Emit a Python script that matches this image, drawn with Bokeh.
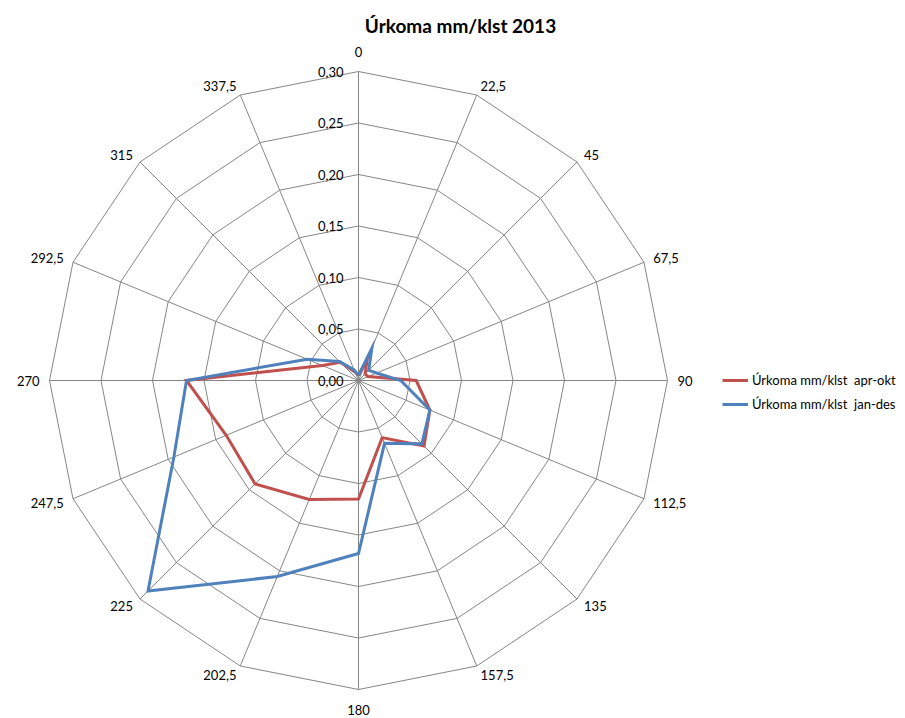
import numpy as np
from bokeh.plotting import figure
from bokeh.models import Range1d, Legend, LegendItem, Label
from bokeh.core.properties import value
from bokeh.embed import file_html
from bokeh.resources import INLINE

title = "Úrkoma mm/klst 2013"
directions = [0, 22.5, 45, 67.5, 90, 112.5, 135, 157.5,
              180, 202.5, 225, 247.5, 270, 292.5, 315, 337.5]
direction_labels = ["0", "22,5", "45", "67,5", "90", "112,5", "135", "157,5",
                    "180", "202,5", "225", "247,5", "270", "292,5", "315", "337,5"]
apr_okt = [0.005, 0.022, 0.009, 0.010, 0.056, 0.075, 0.090, 0.060,
           0.115, 0.125, 0.142, 0.139, 0.167, 0.038, 0.025, 0.009]
jan_des = [0.005, 0.034, 0.014, 0.019, 0.041, 0.075, 0.087, 0.066,
           0.168, 0.206, 0.289, 0.194, 0.167, 0.054, 0.026, 0.011]
series_names = ["Úrkoma mm/klst  apr-okt", "Úrkoma mm/klst  jan-des"]
series_colors = ["#C0504D", "#4F81BD"]
ring_values = [0.05, 0.10, 0.15, 0.20, 0.25, 0.30]
tick_values = [0.00, 0.05, 0.10, 0.15, 0.20, 0.25, 0.30]
tick_labels = ["0,00", "0,05", "0,10", "0,15", "0,20", "0,25", "0,30"]

W, H = 905, 718
S = 1030.0          # pixels per data unit
CX, CY = 358, 380   # centre of the radar in figure pixels (from top-left)
FONT = "Lato"
GRID = "#868686"

p = figure(width=W, height=H, output_backend="svg", toolbar_location=None,
           x_range=Range1d(-CX / S, (W - CX) / S),
           y_range=Range1d(-(H - CY) / S, CY / S),
           min_border=0, outline_line_color=None)
p.xaxis.visible = False
p.yaxis.visible = False
p.grid.visible = False

theta = np.radians(np.array(directions))
sn, cs = np.sin(theta), np.cos(theta)
rmax = max(ring_values)

# rings
rx, ry = [], []
for r in ring_values:
    rx.append(list(np.append(r * sn, r * sn[0])))
    ry.append(list(np.append(r * cs, r * cs[0])))
p.multi_line(rx, ry, line_color=GRID, line_width=1)

# spokes
p.multi_line([[0, rmax * s] for s in sn], [[0, rmax * c] for c in cs],
             line_color=GRID, line_width=1)

# series
renderers = []
for vals, col in zip([apr_okt, jan_des], series_colors):
    v = np.array(vals)
    xs = np.append(v * sn, v[0] * sn[0])
    ys = np.append(v * cs, v[0] * cs[0])
    renderers.append(p.line(xs, ys, line_color=col, line_width=3, line_join="miter"))

# tick labels on the vertical axis
p.text(x=[-15 / S] * len(tick_values), y=tick_values, text=tick_labels,
       text_align="right", text_baseline="middle", text_font=value(FONT),
       text_font_size="13px", text_color="#000000")

# category labels
groups = {}
for i, lab in enumerate(direction_labels):
    s, c = sn[i], cs[i]
    if abs(s) < 1e-6:
        off = 15 / S
        x, y = 0.0, (rmax + off) * (1 if c > 0 else -1)
        key = ("center", "bottom" if c > 0 else "top")
    else:
        off = 10 / S
        x, y = (rmax + off) * s, (rmax + off) * c
        key = ("left" if s > 0 else "right", "middle")
    groups.setdefault(key, ([], [], []))
    groups[key][0].append(x)
    groups[key][1].append(y)
    groups[key][2].append(lab)
for (al, bl), (xs, ys, ts) in groups.items():
    p.text(x=xs, y=ys, text=ts, text_align=al, text_baseline=bl,
           text_font=value(FONT), text_font_size="13px", text_color="#000000")

# title
p.add_layout(Label(x=460, y=H - 25, x_units="screen", y_units="screen",
                   text=title, text_align="center", text_baseline="middle",
                   text_font=FONT, text_font_style="bold", text_font_size="19px",
                   text_color="#000000"))

legend = Legend(items=[LegendItem(label=n, renderers=[r]) for n, r in zip(series_names, renderers)],
                location=(722, 304), orientation="vertical",
                glyph_width=26, glyph_height=20, label_standoff=4, spacing=4,
                padding=0, margin=0, border_line_color=None, background_fill_alpha=0,
                label_text_font=FONT, label_text_font_size="13px", label_text_color="#000000")
p.add_layout(legend, "center")

open("out.html", "w").write(file_html(p, INLINE))
